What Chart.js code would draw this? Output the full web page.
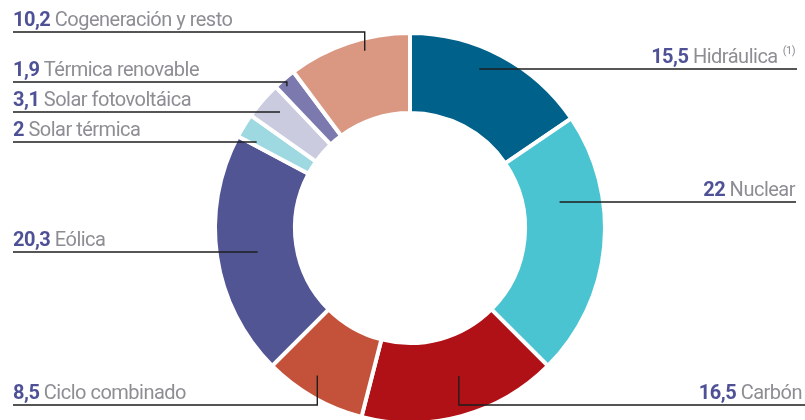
<!DOCTYPE html>
<html>
<head>
<meta charset="utf-8">
<script src="https://cdn.jsdelivr.net/npm/chart.js@4/dist/chart.umd.min.js"></script>
<style>
  html, body { margin: 0; padding: 0; background: #fff; }
  #wrap { position: relative; width: 805px; height: 420px; overflow: hidden; }
  #box { position: absolute; left: 0; top: 0; width: 805px; height: 456px; }
</style>
</head>
<body>
<div id="wrap"><div id="box"><canvas id="mixChart"></canvas></div></div>
<script>
// datos del mix
const categories = ['Hidráulica', 'Nuclear', 'Carbón', 'Ciclo combinado', 'Eólica',
                    'Solar térmica', 'Solar fotovoltáica', 'Térmica renovable', 'Cogeneración y resto'];
const values = [15.5, 22, 16.5, 8.5, 20.3, 2, 3.1, 1.9, 10.2];
const valueLabels = ['15,5', '22', '16,5', '8,5', '20,3', '2', '3,1', '1,9', '10,2'];
const notes = ['(1)', '', '', '', '', '', '', '', ''];
const colors = ['#00628b', '#4bc4d2', '#b01116', '#c4523a', '#525594',
                '#9ed8e0', '#cbcbe0', '#7b79ae', '#da9882'];

// posicion de las etiquetas: lado, altura de la linea, punto dentro del sector (t = fraccion del angulo, f = fraccion del grosor)
const labelLayout = [
  {side: 'right', lineY: 69,  mode: 'h', f: 0.73, lineEnd: 797, textEnd: 795},
  {side: 'right', lineY: 202, mode: 'h', f: 0.46, lineEnd: 796, textEnd: 795},
  {side: 'right', lineY: 405, mode: 'v', t: 0.45, f: 0.51, lineEnd: 805, textEnd: 802},
  {side: 'left',  lineY: 405, mode: 'v', t: 0.58, f: 0.74},
  {side: 'left',  lineY: 252, mode: 'h', f: 0.49},
  {side: 'left',  lineY: 142, mode: 'h', f: 0.76},
  {side: 'left',  lineY: 112, mode: 'h', f: 0.74},
  {side: 'left',  lineY: 82,  mode: 'v', t: 0.38, f: 0.91},
  {side: 'left',  lineY: 32,  mode: 'v', t: 0.61, f: 0.85}
];

const FONT = 'Roboto';

const leaderLabels = {
  id: 'leaderLabels',
  afterDatasetsDraw(chart) {
    const ctx = chart.ctx;
    const arcs = chart.getDatasetMeta(0).data;
    ctx.save();
    ctx.letterSpacing = '-0.5px';
    arcs.forEach(function(arc, i) {
      const p = arc.getProps(['x', 'y', 'startAngle', 'endAngle', 'innerRadius', 'outerRadius'], true);
      const L = labelLayout[i];
      const r = p.innerRadius + L.f * (p.outerRadius - p.innerRadius);
      let ax, ay;
      if (L.mode === 'h') {
        const dy = L.lineY - p.y;
        const mid = (p.startAngle + p.endAngle) / 2;
        const sign = Math.cos(mid) >= 0 ? 1 : -1;
        ax = p.x + sign * Math.sqrt(Math.max(r * r - dy * dy, 0));
        ay = L.lineY;
      } else {
        const a = p.startAngle + L.t * (p.endAngle - p.startAngle);
        ax = p.x + r * Math.cos(a);
        ay = p.y + r * Math.sin(a);
      }
      const endX = L.side === 'left' ? 13 : L.lineEnd;
      ctx.strokeStyle = '#1e1e1e';
      ctx.lineWidth = 1.4;
      ctx.beginPath();
      ctx.moveTo(ax, ay);
      ctx.lineTo(ax, L.lineY);
      ctx.lineTo(endX, L.lineY);
      ctx.stroke();

      // texto
      const base = L.lineY - 6;
      ctx.textBaseline = 'alphabetic';
      ctx.textAlign = 'left';
      ctx.font = 'bold 20px ' + FONT;
      const wNum = ctx.measureText(valueLabels[i]).width;
      ctx.font = '20px ' + FONT;
      const space = ctx.measureText(' ').width;
      const wName = ctx.measureText(categories[i]).width;
      ctx.font = '11px ' + FONT;
      const wNote = notes[i] ? ctx.measureText(notes[i]).width + 5 : 0;
      let x0 = 13;
      if (L.side === 'right') {
        x0 = L.textEnd - (wNum + space + wName + wNote);
      }
      ctx.font = 'bold 20px ' + FONT;
      ctx.fillStyle = '#4f5196';
      ctx.fillText(valueLabels[i], x0, base);
      ctx.font = '20px ' + FONT;
      ctx.fillStyle = '#8d8e94';
      ctx.fillText(categories[i], x0 + wNum + space, base);
      if (notes[i]) {
        ctx.font = '11px ' + FONT;
        ctx.fillText(notes[i], x0 + wNum + space + wName + 5, base - 9);
      }
    });
    ctx.restore();
  }
};

new Chart(document.getElementById('mixChart'), {
  type: 'doughnut',
  data: {
    labels: categories,
    datasets: [{
      data: values,
      backgroundColor: colors,
      borderColor: '#ffffff',
      borderWidth: 4
    }]
  },
  options: {
    responsive: true,
    maintainAspectRatio: false,
    animation: false,
    cutout: '59%',
    layout: { padding: { left: 15, right: 0, top: 31, bottom: 31 } },
    plugins: {
      legend: { display: false },
      tooltip: { enabled: false }
    }
  },
  plugins: [leaderLabels]
});
</script>
</body>
</html>
